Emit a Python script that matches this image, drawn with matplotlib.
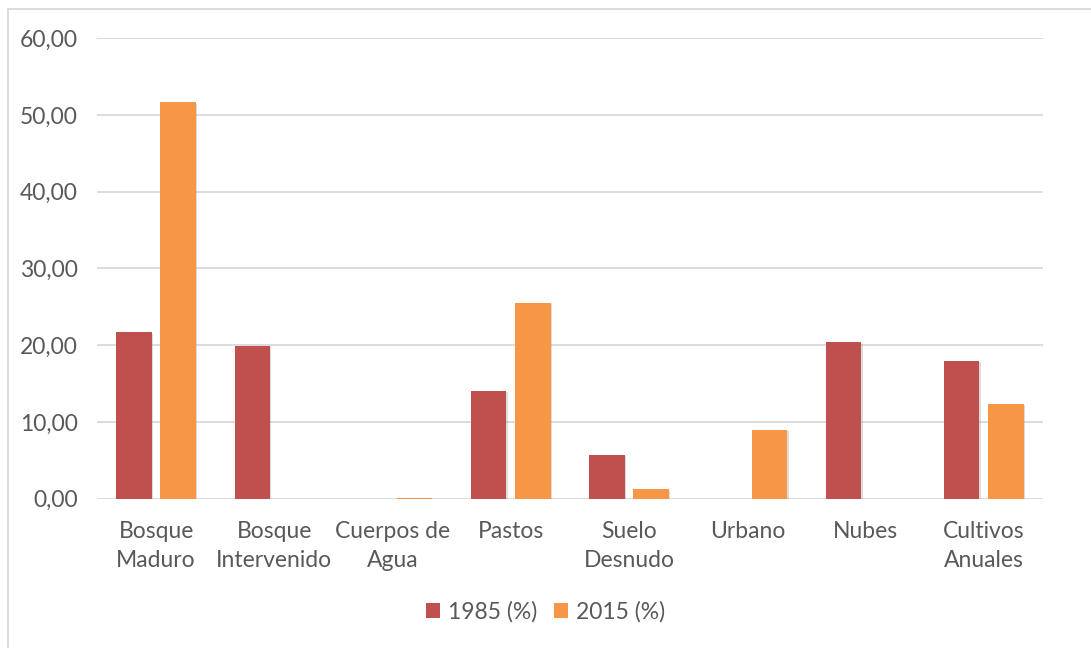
import matplotlib
matplotlib.use("Agg")
import matplotlib.pyplot as plt
import matplotlib.patheffects as pe
from matplotlib.lines import Line2D
from matplotlib.patches import Patch
import numpy as np

categories = ["Bosque\nMaduro", "Bosque\nIntervenido", "Cuerpos de\nAgua", "Pastos",
              "Suelo\nDesnudo", "Urbano", "Nubes", "Cultivos\nAnuales"]
vals_1985 = [21.70, 19.94, 0.00, 14.03, 5.69, 0.00, 20.38, 17.95]
vals_2015 = [51.66, 0.00, 0.03, 25.50, 1.22, 9.00, 0.00, 12.34]
series_labels = ["1985 (%)", "2015 (%)"]
yticks = [0, 10, 20, 30, 40, 50, 60]

c1985 = "#C0504D"
c2015 = "#F79646"
txt = "#595959"
font = ["Lato", "DejaVu Sans"]
plt.rcParams["font.family"] = font
fs = 16.5

fig = plt.figure(figsize=(10.91, 6.48), dpi=100)
ax = fig.add_axes([0.0889, 0.2304, 0.956 - 0.0889, 0.941 - 0.2304])

x = np.arange(len(categories))
w = 0.30
off = 0.187
shadow = [pe.SimplePatchShadow(offset=(1.0, -1.0), shadow_rgbFace="#909090", alpha=0.3), pe.Normal()]
b1 = ax.bar(x - off, vals_1985, w, color=c1985, zorder=3)
b2 = ax.bar(x + off, vals_2015, w, color=c2015, zorder=3)
for b in list(b1) + list(b2):
    b.set_path_effects(shadow)

ax.set_xlim(-0.5, len(categories) - 0.5)
ax.set_ylim(0, 60)
ax.set_yticks(yticks)
ax.set_yticklabels([f"{v:.2f}".replace(".", ",") for v in yticks])
ax.set_xticks(x)
ax.set_xticklabels(categories)
for t in ax.get_xticklabels():
    t.set_linespacing(1.5)
    t.set_verticalalignment("top")
ax.tick_params(axis="both", length=0, labelsize=fs, labelcolor=txt)
ax.tick_params(axis="y", pad=14)
ax.tick_params(axis="x", pad=16)
ax.grid(axis="y", color="#D9D9D9", lw=1.3, zorder=0)
for s in ax.spines.values():
    s.set_visible(False)

handles = [Patch(facecolor=c1985), Patch(facecolor=c2015)]
leg = fig.legend(handles=handles, labels=series_labels, loc="center",
                 bbox_to_anchor=(0.5, 1 - 612 / 648), ncol=2, frameon=False,
                 fontsize=fs, labelcolor=txt, handlelength=0.62, handleheight=0.62,
                 handletextpad=0.35, columnspacing=0.7)

# outer chart border (left & top visible)
fig.add_artist(Line2D([7.5 / 1091, 7.5 / 1091], [0, 1 - 9 / 648], transform=fig.transFigure,
                      color="#D9D9D9", lw=1.3))
fig.add_artist(Line2D([7.5 / 1091, 1], [1 - 9 / 648, 1 - 9 / 648], transform=fig.transFigure,
                      color="#D9D9D9", lw=1.3))

fig.savefig("out.png", dpi=100)
